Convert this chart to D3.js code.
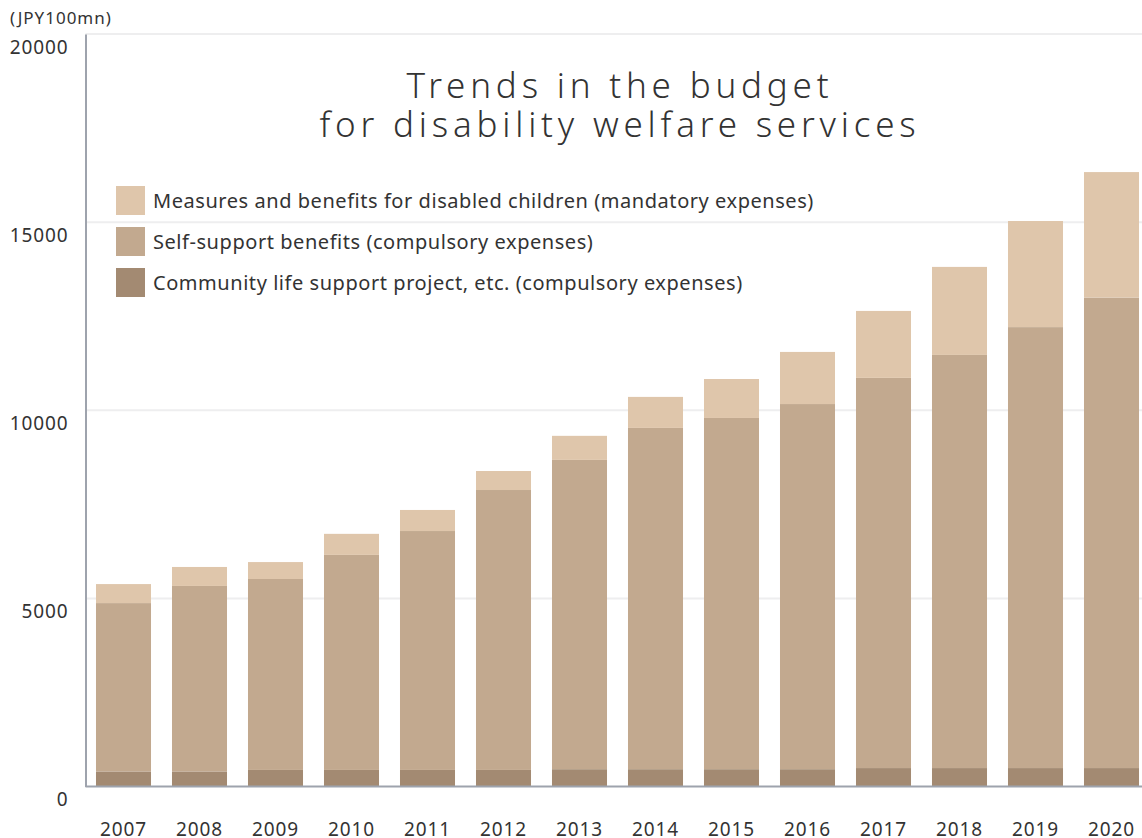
<!DOCTYPE html>
<html>
<head>
<meta charset="utf-8">
<script src="https://cdn.jsdelivr.net/npm/d3@7"></script>
<style>
  html, body { margin: 0; padding: 0; background: #fff; }
  svg { display: block; }
  text { font-family: "Noto Sans", "DejaVu Sans", sans-serif; fill: #333; }
</style>
</head>
<body>
<svg id="chart" width="1142" height="838"></svg>
<script>
// Budget for disability welfare services, JPY 100 million per fiscal year
const years = ["2007","2008","2009","2010","2011","2012","2013","2014","2015","2016","2017","2018","2019","2020"];
const communityLife = [400, 400, 440, 440, 440, 440, 460, 460, 460, 460, 490, 490, 490, 490];
const selfSupport   = [4475, 4930, 5075, 5715, 6350, 7440, 8220, 9070, 9335, 9705, 10370, 10980, 11720, 12505];
const childMeasures = [505, 505, 450, 560, 560, 505, 640, 825, 1035, 1385, 1780, 2340, 2820, 3335];
const yTicks = [0, 5000, 10000, 15000, 20000];

const seriesKeys = ["community", "self", "children"];
const seriesNames = {
  children: "Measures and benefits for disabled children (mandatory expenses)",
  self: "Self-support benefits (compulsory expenses)",
  community: "Community life support project, etc. (compulsory expenses)"
};
const colors = { children: "#dfc6ab", self: "#c2a98f", community: "#a38a72" };

const rows = years.map((y, i) => ({
  year: y, community: communityLife[i], self: selfSupport[i], children: childMeasures[i]
}));

const svg = d3.select("#chart");
const plotLeft = 85.5, plotBottom = 786.5, plotTop = 34;

const x = d3.scaleBand().domain(years).range([plotLeft, plotLeft + 14 * 76]).paddingInner(0.276).paddingOuter(0.138);
const y = d3.scaleLinear().domain([0, 20000]).range([plotBottom, plotTop]);

// horizontal gridlines
svg.append("g").selectAll("line").data(yTicks.filter(t => t > 0)).join("line")
  .attr("x1", plotLeft).attr("x2", 1142)
  .attr("y1", d => y(d)).attr("y2", d => y(d))
  .attr("stroke", "#eeeeef").attr("stroke-width", 2);

// stacked bars
const stacked = d3.stack().keys(seriesKeys)(rows);
svg.append("g").selectAll("g").data(stacked).join("g")
  .attr("fill", d => colors[d.key])
  .selectAll("rect").data(d => d).join("rect")
  .attr("x", d => x(d.data.year))
  .attr("width", x.bandwidth())
  .attr("y", d => y(d[1]))
  .attr("height", d => y(d[0]) - y(d[1]));

// axes
const yAxis = svg.append("g").attr("transform", `translate(${plotLeft},0)`)
  .call(d3.axisLeft(y).tickValues(yTicks).tickFormat(d3.format("d")).tickSize(0).tickPadding(17));
yAxis.select(".domain").attr("stroke", "#9ea3ad").attr("stroke-width", 2);
yAxis.selectAll("text").attr("font-size", 19).attr("letter-spacing", 0.9)
  .attr("dy", "1.0em").attr("fill", "#333");

const xAxis = svg.append("g").attr("transform", `translate(0,${plotBottom})`)
  .call(d3.axisBottom(x).tickSize(0).tickPadding(36));
xAxis.select(".domain").attr("stroke", "#9ea3ad").attr("stroke-width", 2)
  .attr("d", `M${plotLeft},0H1142`);
xAxis.selectAll("text").attr("font-size", 19).attr("letter-spacing", 0.9).attr("fill", "#333");

// unit label
svg.append("text").attr("x", 10).attr("y", 24).attr("font-size", 17)
  .attr("letter-spacing", 1).text("(JPY100mn)");

// title, two lines
const titleLines = ["Trends in the budget", "for disability welfare services"];
svg.append("g").selectAll("text").data(titleLines).join("text")
  .attr("text-anchor", "middle").attr("x", 620).attr("y", (d, i) => 98 + i * 39)
  .attr("font-size", 35).attr("font-weight", 300).attr("letter-spacing", 4.8)
  .text(d => d);

// legend
const legendOrder = ["children", "self", "community"];
const legend = svg.append("g").selectAll("g").data(legendOrder).join("g")
  .attr("transform", (d, i) => `translate(116,${186 + i * 41})`);
legend.append("rect").attr("width", 29).attr("height", 29).attr("fill", d => colors[d]);
legend.append("text").attr("x", 37).attr("y", 22).attr("font-size", 20)
  .attr("letter-spacing", 0.55).text(d => seriesNames[d]);
</script>
</body>
</html>
